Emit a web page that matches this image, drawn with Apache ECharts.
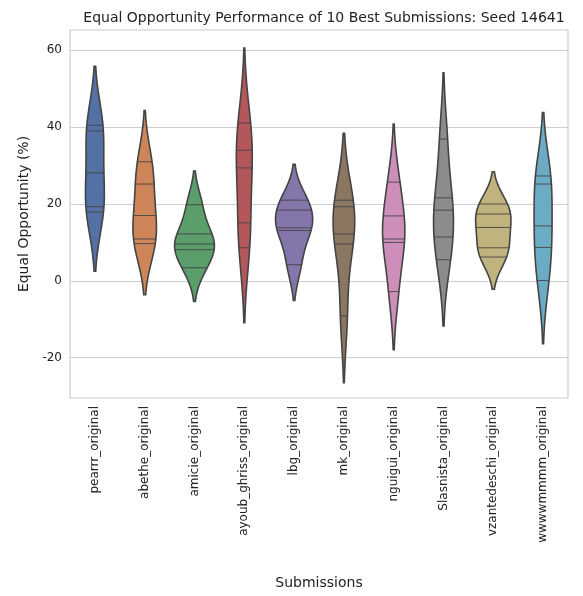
<!DOCTYPE html>
<html><head><meta charset="utf-8">
<script src="https://cdn.jsdelivr.net/npm/echarts@6/dist/echarts.min.js"></script>
<style>html,body{margin:0;padding:0;background:#fff}#c{width:583px;height:596px}</style>
</head><body><div id="c"></div>
<script>
const categories = ['pearrr_original','abethe_original','amicie_original','ayoub_ghriss_original','lbg_original','mk_original','nguigui_original','Slasnista_original','vzantedeschi_original','wwwwmmmm_original'];
const pearrr = [40.5, 39.0, 28.1, 19.3, 17.9];
const abethe = [31.0, 25.2, 17.0, 10.9, 9.7];
const amicie = [19.8, 12.2, 9.6, 8.1, 3.4];
const ayoub = [41.1, 34.0, 29.4, 15.1, 8.6];
const lbg = [21.0, 18.4, 13.8, 13.1, 4.2];
const mk = [21.0, 19.3, 12.2, 9.6, -9.1];
const nguigui = [25.7, 16.9, 10.9, 10.0, -2.8];
const slasnista = [36.9, 21.6, 18.4, 11.4, 5.5];
const vzantedeschi = [20.0, 17.4, 13.9, 8.6, 6.2];
const wwww = [27.3, 25.2, 14.3, 8.7, 0.1];
const yTicks = [-20, 0, 20, 40, 60];
const samples = [pearrr, abethe, amicie, ayoub, lbg, mk, nguigui, slasnista, vzantedeschi, wwww];
const colors = ['#5471a5','#ce855a','#5b9d6b','#b4575a','#8475aa','#8b7662','#cd8fba','#8c8c8c','#c1b37e','#6bacc4'];

// Gaussian KDE (Scott's rule), cut = 2, as seaborn
function kde(v){
  const n=v.length, m=v.reduce((a,b)=>a+b,0)/n;
  const sd=Math.sqrt(v.reduce((a,b)=>a+(b-m)*(b-m),0)/(n-1));
  const bw=sd*Math.pow(n,-0.2);
  const f=y=>v.reduce((a,x)=>a+Math.exp(-0.5*((y-x)/bw)**2),0)/(n*bw*Math.sqrt(2*Math.PI));
  const lo=Math.min(...v)-2*bw, hi=Math.max(...v)+2*bw, pts=[];
  for(let i=0;i<=100;i++){const y=lo+(hi-lo)*i/100;pts.push([y,f(y)]);}
  return {pts,f};
}
const kdes = samples.map(kde);
const gmax = Math.max(...kdes.map(k=>Math.max(...k.pts.map(p=>p[1]))));

const chart = echarts.init(document.getElementById('c'));
chart.setOption({
  animation:false,
  title:{text:'Equal Opportunity Performance of 10 Best Submissions: Seed 14641',left:319,top:6,textAlign:'center',textStyle:{fontSize:14,fontWeight:'normal',color:'#222',fontFamily:'DejaVu Sans'}},
  grid:{left:70,right:15,top:30,bottom:198,show:true,borderColor:'#ccc',borderWidth:1.2},
  xAxis:{type:'category',data:categories,name:'Submissions',nameLocation:'middle',nameGap:178,
    nameTextStyle:{fontSize:14,color:'#222',fontFamily:'DejaVu Sans'},
    axisLine:{show:false},axisTick:{show:false},
    axisLabel:{rotate:90,fontSize:12,color:'#222',fontFamily:'DejaVu Sans',margin:8}},
  yAxis:{type:'value',min:-30.5,max:65.3,name:'Equal Opportunity (%)',nameLocation:'middle',nameGap:38,
    nameTextStyle:{fontSize:14,color:'#222',fontFamily:'DejaVu Sans'},
    axisLine:{show:false},axisTick:{show:false},splitLine:{show:false},
    axisLabel:{customValues:yTicks,fontSize:12,color:'#222',fontFamily:'DejaVu Sans'}},
  series:[{
    type:'custom',
    data:categories.map((c,i)=>[i]),
    renderItem:function(params,api){
      const i=api.value(0), k=kdes[i];
      const half=api.size([1,0])[0]*0.4;
      const cx=api.coord([i,0])[0];
      const left=[],right=[];
      k.pts.forEach(p=>{const y=api.coord([i,p[0]])[1];const w=half*p[1]/gmax;left.push([cx-w,y]);right.unshift([cx+w,y]);});
      const children=[{type:'polygon',shape:{points:left.concat(right)},style:{fill:colors[i],stroke:'#444',lineWidth:1.6}}];
      samples[i].forEach(v=>{const y=api.coord([i,v])[1];const w=half*k.f(v)/gmax;
        children.push({type:'line',shape:{x1:cx-w,y1:y,x2:cx+w,y2:y},style:{stroke:'#444',lineWidth:0.9}});});
      return {type:'group',children};
    },
    markLine:{silent:true,symbol:'none',label:{show:false},z:-1,
      lineStyle:{color:'#cfcfcf',type:'solid',width:1},
      data:yTicks.map(t=>({yAxis:t}))}
  }]
});
</script></body></html>
